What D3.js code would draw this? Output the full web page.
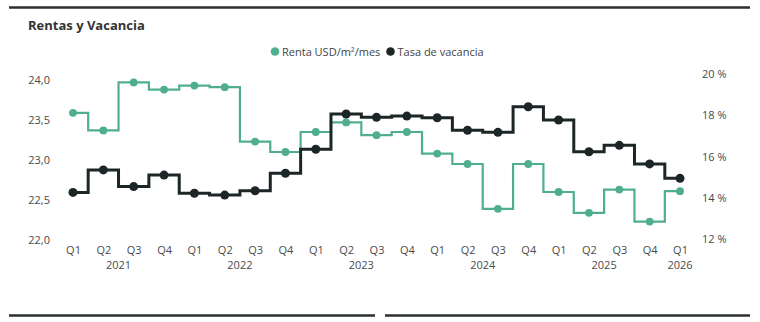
<!DOCTYPE html>
<html>
<head>
<meta charset="utf-8">
<script src="https://cdn.jsdelivr.net/npm/d3@7"></script>
<style>
  html, body { margin: 0; padding: 0; background: #fff; }
  svg { display: block; font-family: "Open Sans", sans-serif; }
</style>
</head>
<body>
<svg id="chart" width="760" height="322"></svg>
<script>
// Quarter labels and the year each quarter belongs to
const quarters = ["Q1","Q2","Q3","Q4","Q1","Q2","Q3","Q4","Q1","Q2","Q3","Q4",
                  "Q1","Q2","Q3","Q4","Q1","Q2","Q3","Q4","Q1"];
const years    = [2021,2021,2021,2021,2022,2022,2022,2022,2023,2023,2023,2023,
                  2024,2024,2024,2024,2025,2025,2025,2025,2026];

// Renta USD/m²/mes (left axis)
const renta = [23.59, 23.37, 23.97, 23.88, 23.93, 23.91, 23.23, 23.10,
               23.35, 23.47, 23.31, 23.35, 23.08, 22.95, 22.39, 22.95,
               22.60, 22.34, 22.63, 22.23, 22.61];

// Tasa de vacancia, % (right axis)
const vacancia = [14.26, 15.35, 14.54, 15.10, 14.22, 14.13, 14.34, 15.19,
                  16.35, 18.06, 17.90, 17.96, 17.88, 17.27, 17.17, 18.41,
                  17.77, 16.23, 16.54, 15.64, 14.94];

const leftTicks  = [22.0, 22.5, 23.0, 23.5, 24.0];
const rightTicks = [12, 14, 16, 18, 20];

const seriesNames = ["Renta USD/m²/mes", "Tasa de vacancia"];
const colors = { renta: "#50ae90", vacancia: "#1d2626" };

const svg = d3.select("#chart");
const idx = d3.range(quarters.length);

const x = d3.scalePoint().domain(idx).range([73, 680]);
const yL = d3.scaleLinear().domain([22, 24]).range([240, 80]);
const yR = d3.scaleLinear().domain([12, 20]).range([239, 74]);

// Frame rules
svg.append("line").attr("x1", 9).attr("x2", 750).attr("y1", 7.5).attr("y2", 7.5)
  .attr("stroke", "#2a2f2f").attr("stroke-width", 2.5);
svg.append("line").attr("x1", 9).attr("x2", 375).attr("y1", 315.5).attr("y2", 315.5)
  .attr("stroke", "#2a2f2f").attr("stroke-width", 2.5);
svg.append("line").attr("x1", 385).attr("x2", 750).attr("y1", 315.5).attr("y2", 315.5)
  .attr("stroke", "#2a2f2f").attr("stroke-width", 2.5);

// Title
svg.append("text").attr("x", 28).attr("y", 30)
  .attr("font-size", 13).attr("font-weight", 700).attr("fill", "#333")
  .text("Rentas y Vacancia");

// Legend
const legend = svg.append("g").attr("font-size", 11).attr("fill", "#444");
[[275, colors.renta, seriesNames[0]], [390.5, colors.vacancia, seriesNames[1]]].forEach(([lx, c, t]) => {
  legend.append("circle").attr("cx", lx).attr("cy", 51.5).attr("r", 4.3).attr("fill", c);
  legend.append("text").attr("x", lx + 7).attr("y", 55.5).text(t);
});

// Left axis
const axL = svg.append("g").attr("transform", "translate(50,0)")
  .call(d3.axisLeft(yL).tickValues(leftTicks).tickSize(0).tickPadding(0)
    .tickFormat(d => d3.format(".1f")(d).replace(".", ",")));
// Right axis
const axR = svg.append("g").attr("transform", "translate(702,0)")
  .call(d3.axisRight(yR).tickValues(rightTicks).tickSize(0).tickPadding(0)
    .tickFormat(d => d + " %"));
// Bottom axis (quarters)
const axB = svg.append("g").attr("transform", "translate(0,246)")
  .call(d3.axisBottom(x).tickSize(0).tickPadding(0).tickFormat(i => quarters[i]));

[axL, axR, axB].forEach(a => {
  a.select(".domain").remove();
  a.selectAll("text").attr("font-size", 11).attr("fill", "#4a4a4a")
    .attr("font-family", "Open Sans, sans-serif");
});

// Year labels centred under each year's quarters
const yearGroups = d3.groups(idx, i => years[i]);
svg.append("g").selectAll("text").data(yearGroups).join("text")
  .attr("x", d => d3.mean(d[1], i => x(i)))
  .attr("y", 269)
  .attr("text-anchor", "middle").attr("font-size", 11).attr("fill", "#4a4a4a")
  .text(d => d[0]);

// Step lines
const lineL = d3.line().x(i => x(i)).y(i => yL(renta[i])).curve(d3.curveStep);
const lineR = d3.line().x(i => x(i)).y(i => yR(vacancia[i])).curve(d3.curveStep);

svg.append("path").datum(idx).attr("d", lineL).attr("fill", "none")
  .attr("stroke", colors.renta).attr("stroke-width", 2.2);
svg.append("path").datum(idx).attr("d", lineR).attr("fill", "none")
  .attr("stroke", colors.vacancia).attr("stroke-width", 3);

svg.append("g").selectAll("circle").data(idx).join("circle")
  .attr("cx", i => x(i)).attr("cy", i => yL(renta[i])).attr("r", 3.9)
  .attr("fill", colors.renta);
svg.append("g").selectAll("circle").data(idx).join("circle")
  .attr("cx", i => x(i)).attr("cy", i => yR(vacancia[i])).attr("r", 4.5)
  .attr("fill", colors.vacancia);
</script>
</body>
</html>
